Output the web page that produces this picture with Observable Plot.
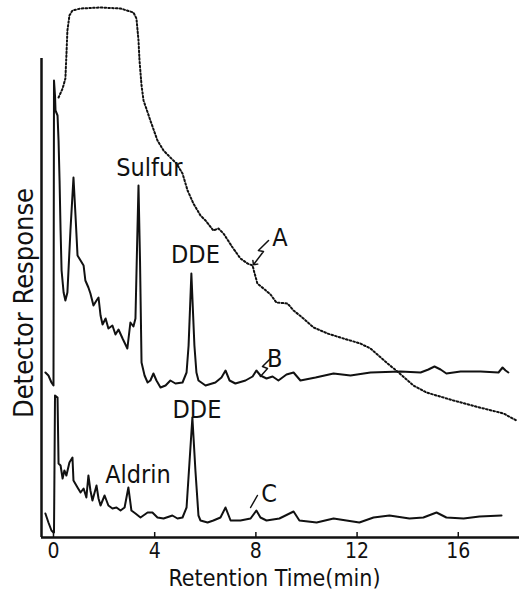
<!DOCTYPE html>
<html><head><meta charset="utf-8">
<script src="https://cdn.jsdelivr.net/npm/d3@7"></script>
<script src="https://cdn.jsdelivr.net/npm/@observablehq/plot@0.6"></script>
<style>html,body{margin:0;padding:0;background:#fff;} #chart svg{display:block}</style>
</head><body><div id="chart"></div>
<script>
// Retention time (min) vs detector response (arbitrary units)
const xTicks = [0, 4, 8, 12, 16];

// Trace A (dotted)
const traceA = [
  [0.20,440],[0.36,449],[0.47,459],[0.51,482],[0.55,507],[0.63,522],[0.75,527],[1.07,529],
  [1.86,530],[2.65,529],[3.16,525],[3.28,519],[3.36,497],[3.40,477],[3.48,452],[3.56,437],
  [3.83,417],[4.11,397],[4.35,387],[4.62,380],[4.86,374],[5.10,364],[5.30,347],[5.53,334],
  [5.81,322],[6.01,317],[6.32,307],[6.52,309],[6.72,304],[7.08,290],[7.39,279],[7.67,274],
  [7.87,272],[7.94,265],[8.06,254],[8.30,249],[8.58,243],[8.81,235],[9.25,234],[9.49,227],
  [9.88,219],[10.28,210],[10.83,204],[11.46,199],[12.13,194],[12.53,189],[13.16,175],
  [13.64,165],[14.23,152],[14.74,145],[15.81,137],[16.84,130],[17.79,124],[18.30,117]
];

// Trace B (solid, upper)
const traceB = [
  [-0.32,165],[-0.20,162],[-0.08,155],[0.00,152],[0.02,457],[0.06,442],[0.08,427],[0.16,422],
  [0.20,397],[0.24,357],[0.28,307],[0.32,267],[0.40,245],[0.47,237],[0.55,245],[0.67,307],
  [0.79,360],[0.87,322],[0.95,282],[1.07,277],[1.19,272],[1.26,257],[1.38,250],[1.46,244],
  [1.58,232],[1.70,237],[1.78,240],[1.86,222],[1.94,213],[2.06,219],[2.17,209],[2.33,212],
  [2.45,203],[2.57,208],[2.73,199],[2.92,189],[3.04,215],[3.16,211],[3.24,219],[3.30,287],
  [3.36,352],[3.42,277],[3.48,175],[3.60,162],[3.72,155],[3.83,157],[3.95,164],[4.07,157],
  [4.23,150],[4.43,152],[4.62,157],[4.82,154],[5.10,155],[5.26,165],[5.34,192],[5.45,264],
  [5.57,192],[5.65,165],[5.73,157],[6.01,152],[6.40,155],[6.64,160],[6.80,167],[6.96,157],
  [7.19,154],[7.59,157],[7.87,161],[8.02,167],[8.18,162],[8.42,159],[8.66,161],[8.89,157],
  [9.21,163],[9.49,165],[9.76,157],[10.36,160],[11.07,164],[11.74,162],[12.53,165],[13.72,166],
  [14.51,165],[14.82,168],[15.06,171],[15.30,168],[15.53,164],[16.09,166],[16.88,166],
  [17.59,165],[17.75,170],[17.87,167],[17.98,165]
];

// Trace C (solid, lower)
const traceC = [
  [-0.32,24],[-0.20,15],[-0.08,7],[0.00,5],[0.02,5],[0.06,142],[0.16,140],[0.20,74],
  [0.28,72],[0.36,59],[0.43,67],[0.51,62],[0.63,75],[0.75,80],[0.79,57],[0.95,50],[1.07,45],
  [1.19,49],[1.30,40],[1.38,62],[1.46,47],[1.54,37],[1.70,52],[1.78,39],[1.86,32],[2.02,42],
  [2.17,32],[2.33,29],[2.49,30],[2.65,27],[2.81,30],[2.96,50],[3.08,27],[3.24,24],[3.44,20],
  [3.72,25],[3.91,25],[4.11,20],[4.35,19],[4.70,22],[4.90,19],[5.10,20],[5.26,30],[5.38,77],
  [5.49,120],[5.61,67],[5.73,22],[5.81,17],[6.09,15],[6.32,17],[6.60,20],[6.80,30],[7.00,17],
  [7.39,17],[7.79,19],[8.02,27],[8.18,20],[8.42,17],[8.93,19],[9.49,26],[9.72,17],[10.40,15],
  [11.07,19],[12.09,15],[12.65,20],[13.28,22],[14.07,19],[14.62,20],[15.14,25],[15.53,20],
  [16.21,19],[16.84,21],[17.71,22]
];

// Peak / trace labels
const labelText = ["Sulfur", "DDE", "DDE", "Aldrin", "A", "B", "C"];
const labelTime = [3.79, 5.61, 5.67, 3.34, 8.95, 8.74, 8.52];
const labelResp = [370, 283, 128, 63, 300, 179, 44];

// Pointer squiggles to traces A, B, C
const pointerA = [[8.50,297],[8.10,287],[8.30,286],[7.94,274]];
const pointerB = [[8.58,179],[8.26,171],[8.46,169],[8.18,161]];
const pointerC = [[8.06,42],[7.79,30]];

const xMin = -0.474, xMax = 18.42, yAxisTop = 479;

const labels = labelText.map((t, i) => ({text: t, x: labelTime[i], y: labelResp[i]}));
const FONT = "'DejaVu Sans Condensed', 'Liberation Sans Narrow', 'DejaVu Sans', sans-serif";
const ink = "#111";

const chart = Plot.plot({
  width: 532, height: 593,
  marginTop: 0, marginBottom: 56, marginLeft: 41, marginRight: 13,
  x: {domain: [xMin, xMax]},
  y: {domain: [0, 537], axis: null},
  style: {fontFamily: FONT, fontStretch: "condensed", color: ink, background: "#fff"},
  marks: [
    Plot.axisX({ticks: xTicks, tickSize: 0, tickPadding: 6, fontSize: 21, label: null}),
    Plot.ruleX(xTicks, {y1: 0, y2: 5, stroke: ink, strokeWidth: 1.5}),
    Plot.ruleY([0], {x1: xMin, x2: xMax, stroke: ink, strokeWidth: 2.5}),
    Plot.ruleX([xMin], {y1: 0, y2: yAxisTop, stroke: ink, strokeWidth: 2.5}),
    Plot.line(traceA, {x: d => d[0], y: d => d[1], stroke: ink, strokeWidth: 2, strokeDasharray: "1.6,2.2"}),
    Plot.line(traceB, {x: d => d[0], y: d => d[1], stroke: ink, strokeWidth: 2}),
    Plot.line(traceC, {x: d => d[0], y: d => d[1], stroke: ink, strokeWidth: 2}),
    Plot.line(pointerA, {x: d => d[0], y: d => d[1], stroke: ink, strokeWidth: 1.5, markerEnd: "arrow"}),
    Plot.line(pointerB, {x: d => d[0], y: d => d[1], stroke: ink, strokeWidth: 1.5}),
    Plot.line(pointerC, {x: d => d[0], y: d => d[1], stroke: ink, strokeWidth: 1.5}),
    Plot.text(labels, {x: "x", y: "y", text: "text", fontSize: 25, fill: ink, lineAnchor: "middle"}),
    Plot.text(["Retention Time(min)"], {frameAnchor: "bottom", dx: -6, dy: 41, fontSize: 23, fill: ink, textAnchor: "middle", lineAnchor: "middle"}),
    Plot.text(["Detector Response"], {frameAnchor: "left", dx: -17, dy: 34, rotate: -90, fontSize: 27, fill: ink, textAnchor: "middle", lineAnchor: "middle"})
  ]
});
document.getElementById("chart").appendChild(chart);
</script>
</body></html>
